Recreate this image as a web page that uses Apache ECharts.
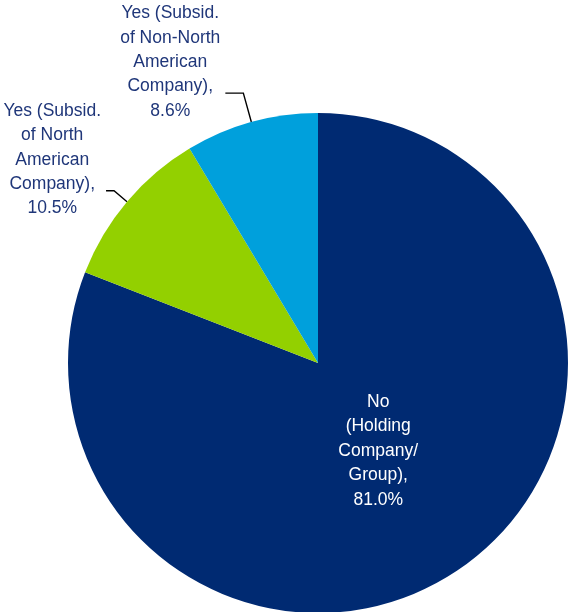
<!DOCTYPE html>
<html>
<head>
<meta charset="utf-8">
<script src="https://cdn.jsdelivr.net/npm/echarts@6/dist/echarts.min.js"></script>
<style>
  html, body { margin: 0; padding: 0; background: #ffffff; }
  #chart { width: 570px; height: 612px; }
</style>
</head>
<body>
<div id="chart"></div>
<script>
// Ownership structure: is the company a subsidiary?
const categories = [
  'No (Holding Company/Group)',
  'Yes (Subsid. of North American Company)',
  'Yes (Subsid. of Non-North American Company)'
];
const shares = [81.0, 10.5, 8.6];
const labelTexts = [
  ['No', '(Holding', 'Company/', 'Group),'],
  ['Yes (Subsid.', 'of North', 'American', 'Company),'],
  ['Yes (Subsid.', 'of Non-North', 'American', 'Company),']
];
const sliceColors = ['#002a72', '#93d000', '#00a0dc'];

const FONT = "'Liberation Sans', Arial, sans-serif";
const CENTER = [318, 363];
const RADIUS = 250;

function richLabel(i) {
  const lines = labelTexts[i].concat([shares[i].toFixed(1) + '%']);
  return lines.map(l => '{t|' + l + '}').join('\n');
}

// Leader line geometry for the two small outside slices
const leaderLines = [
  null,
  { length: 17, length2: 8 },
  { length: 30, length2: 18 }
];

const chart = echarts.init(document.getElementById('chart'), null, { renderer: 'canvas' });

chart.setOption({
  backgroundColor: '#ffffff',
  animation: false,
  series: [
    {
      // Slices, with outside labels for the two small shares
      type: 'pie',
      center: CENTER,
      radius: RADIUS,
      startAngle: 90,
      clockwise: true,
      avoidLabelOverlap: false,
      labelLayout: { hideOverlap: false },
      silent: true,
      data: categories.map((name, i) => ({
        name: name,
        value: shares[i],
        itemStyle: { color: sliceColors[i] },
        label: i === 0 ? { show: false } : {
          show: true,
          position: 'outside',
          formatter: () => richLabel(i),
          padding: [0, 0, 62, 0],
          distanceToLabelLine: 5,
          rich: {
            t: {
              fontFamily: FONT,
              fontSize: 17.5,
              lineHeight: 24.3,
              color: '#1f3679',
              align: 'center'
            }
          }
        },
        labelLine: i === 0 ? { show: false } : {
          show: true,
          length: leaderLines[i].length,
          length2: leaderLines[i].length2,
          lineStyle: { color: '#000000', width: 1.4 }
        }
      }))
    },
    {
      // Transparent copy used only to place the large slice's label inside it
      type: 'pie',
      center: CENTER,
      radius: RADIUS * 0.83,
      startAngle: 90,
      clockwise: true,
      silent: true,
      data: categories.map((name, i) => ({
        name: name,
        value: shares[i],
        itemStyle: { color: 'rgba(0,0,0,0)' },
        label: i === 0 ? {
          show: true,
          position: 'inside',
          formatter: () => richLabel(i),
          rich: {
            t: {
              fontFamily: FONT,
              fontSize: 17.5,
              lineHeight: 24.5,
              color: '#ffffff',
              align: 'center'
            }
          }
        } : { show: false },
        labelLine: { show: false }
      }))
    }
  ]
});
</script>
</body>
</html>
